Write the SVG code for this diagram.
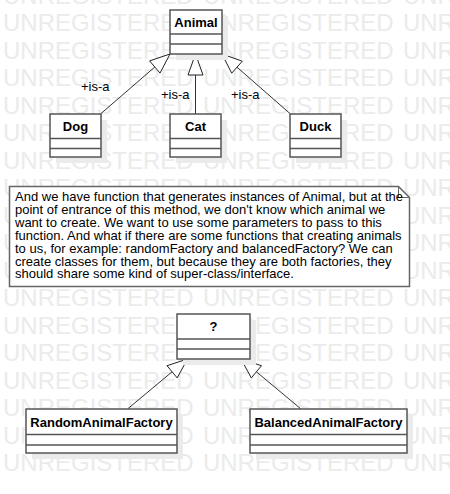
<svg xmlns="http://www.w3.org/2000/svg" width="450" height="494" viewBox="0 0 450 494">
<style>
.wm{font-family:"Liberation Sans",Arial,sans-serif;font-size:24px;fill:#ebebeb;word-spacing:2.6px}
.box{fill:#fff;stroke:#555;stroke-width:1.5}
.shadow{fill:#ebebeb}
.div{stroke:#555;stroke-width:1.5}
.name{font-family:"Liberation Sans",Arial,sans-serif;font-size:13px;font-weight:bold;fill:#000;text-anchor:middle}
.lbl{font-family:"Liberation Sans",Arial,sans-serif;font-size:13px;fill:#000}
.note{font-family:"Liberation Sans",Arial,sans-serif;font-size:13px;fill:#000}
.edge{stroke:#333;stroke-width:1;fill:none}
.head{fill:#fff;stroke:#222;stroke-width:1}
</style>
<rect width="450" height="494" fill="#fff"/>
<g id="watermark">
<text class="wm" x="3" y="3.5">UNREGISTERED UNREGISTERED UNR</text>
<text class="wm" x="3" y="31">UNREGISTERED UNREGISTERED UNR</text>
<text class="wm" x="3" y="58.5">UNREGISTERED UNREGISTERED UNR</text>
<text class="wm" x="3" y="86">UNREGISTERED UNREGISTERED UNR</text>
<text class="wm" x="3" y="113.5">UNREGISTERED UNREGISTERED UNR</text>
<text class="wm" x="3" y="141">UNREGISTERED UNREGISTERED UNR</text>
<text class="wm" x="3" y="168.5">UNREGISTERED UNREGISTERED UNR</text>
<text class="wm" x="3" y="196">UNREGISTERED UNREGISTERED UNR</text>
<text class="wm" x="3" y="223.5">UNREGISTERED UNREGISTERED UNR</text>
<text class="wm" x="3" y="251">UNREGISTERED UNREGISTERED UNR</text>
<text class="wm" x="3" y="278.5">UNREGISTERED UNREGISTERED UNR</text>
<text class="wm" x="3" y="306">UNREGISTERED UNREGISTERED UNR</text>
<text class="wm" x="3" y="333.5">UNREGISTERED UNREGISTERED UNR</text>
<text class="wm" x="3" y="361">UNREGISTERED UNREGISTERED UNR</text>
<text class="wm" x="3" y="388.5">UNREGISTERED UNREGISTERED UNR</text>
<text class="wm" x="3" y="416">UNREGISTERED UNREGISTERED UNR</text>
<text class="wm" x="3" y="443.5">UNREGISTERED UNREGISTERED UNR</text>
<text class="wm" x="3" y="471">UNREGISTERED UNREGISTERED UNR</text>
</g>
<g id="connectors">
<path class="edge" d="M100.5,114 L154.8,67"/>
<polygon class="head" points="170,54 149.6,60.9 160,73.1"/>
<path class="edge" d="M195.5,114 V75"/>
<polygon class="head" points="195.5,54 188,75 203,75"/>
<path class="edge" d="M290.5,114 L237,67.2"/>
<polygon class="head" points="222,54 231.7,73.2 242.3,61.2"/>
<path class="edge" d="M127.5,409 L172.1,371.8"/>
<polygon class="head" points="187.5,359 167,365.7 177.2,377.9"/>
<path class="edge" d="M301,409 L256.4,371.8"/>
<polygon class="head" points="241,359 251.3,377.9 261.5,365.7"/>
<text class="lbl" x="81" y="91">+is-a</text>
<text class="lbl" x="161" y="99">+is-a</text>
<text class="lbl" x="231" y="99">+is-a</text>
</g>
<g id="Animal">
<rect class="shadow" x="176" y="16" width="52" height="44"/>
<rect class="box" x="170" y="10" width="52" height="44"/>
<line class="div" x1="170" y1="34" x2="222" y2="34"/>
<line class="div" x1="170" y1="44" x2="222" y2="44"/>
<text class="name" x="196" y="27">Animal</text>
</g>
<g id="Dog">
<rect class="shadow" x="56" y="120" width="51" height="43"/>
<rect class="box" x="50" y="114" width="51" height="43"/>
<line class="div" x1="50" y1="138.5" x2="101" y2="138.5"/>
<line class="div" x1="50" y1="148.5" x2="101" y2="148.5"/>
<text class="name" x="75.5" y="131">Dog</text>
</g>
<g id="Cat">
<rect class="shadow" x="176" y="120" width="51" height="43"/>
<rect class="box" x="170" y="114" width="51" height="43"/>
<line class="div" x1="170" y1="138.5" x2="221" y2="138.5"/>
<line class="div" x1="170" y1="148.5" x2="221" y2="148.5"/>
<text class="name" x="195.5" y="131">Cat</text>
</g>
<g id="Duck">
<rect class="shadow" x="296" y="120" width="51" height="43"/>
<rect class="box" x="290" y="114" width="51" height="43"/>
<line class="div" x1="290" y1="138.5" x2="341" y2="138.5"/>
<line class="div" x1="290" y1="148.5" x2="341" y2="148.5"/>
<text class="name" x="315.5" y="131">Duck</text>
</g>
<g id="Note">
<path d="M9.5,186.5 H398.5 L409.5,197.5 V286.5 H9.5 Z" fill="#fff" stroke="#666" stroke-width="1.5"/>
<path d="M398.5,186.5 V197.5 H409.5" fill="none" stroke="#666" stroke-width="1"/>
<text class="note" x="15" y="201">And we have function that generates instances of Animal, but at the</text>
<text class="note" x="15" y="213.9">point of entrance of this method, we don't know which animal we</text>
<text class="note" x="15" y="226.8">want to create. We want to use some parameters to pass to this</text>
<text class="note" x="15" y="239.7">function. And what if there are some functions that creating animals</text>
<text class="note" x="15" y="252.6">to us, for example: randomFactory and balancedFactory? We can</text>
<text class="note" x="15" y="265.5">create classes for them, but because they are both factories, they</text>
<text class="note" x="15" y="278.4">should share some kind of super-class/interface.</text>
</g>
<g id="Unknown">
<rect class="shadow" x="183" y="320" width="73" height="45"/>
<rect class="box" x="177" y="314" width="73" height="45"/>
<line class="div" x1="177" y1="339" x2="250" y2="339"/>
<line class="div" x1="177" y1="349" x2="250" y2="349"/>
<text class="name" x="213.5" y="331">?</text>
</g>
<g id="RandomAnimalFactory">
<rect class="shadow" x="32" y="415" width="151" height="44"/>
<rect class="box" x="26" y="409" width="151" height="44"/>
<line class="div" x1="26" y1="434.5" x2="177" y2="434.5"/>
<line class="div" x1="26" y1="445" x2="177" y2="445"/>
<text class="name" x="101.5" y="426.5">RandomAnimalFactory</text>
</g>
<g id="BalancedAnimalFactory">
<rect class="shadow" x="256" y="415" width="157" height="44"/>
<rect class="box" x="250" y="409" width="157" height="44"/>
<line class="div" x1="250" y1="434.5" x2="407" y2="434.5"/>
<line class="div" x1="250" y1="445" x2="407" y2="445"/>
<text class="name" x="328.5" y="426.5">BalancedAnimalFactory</text>
</g>
</svg>
